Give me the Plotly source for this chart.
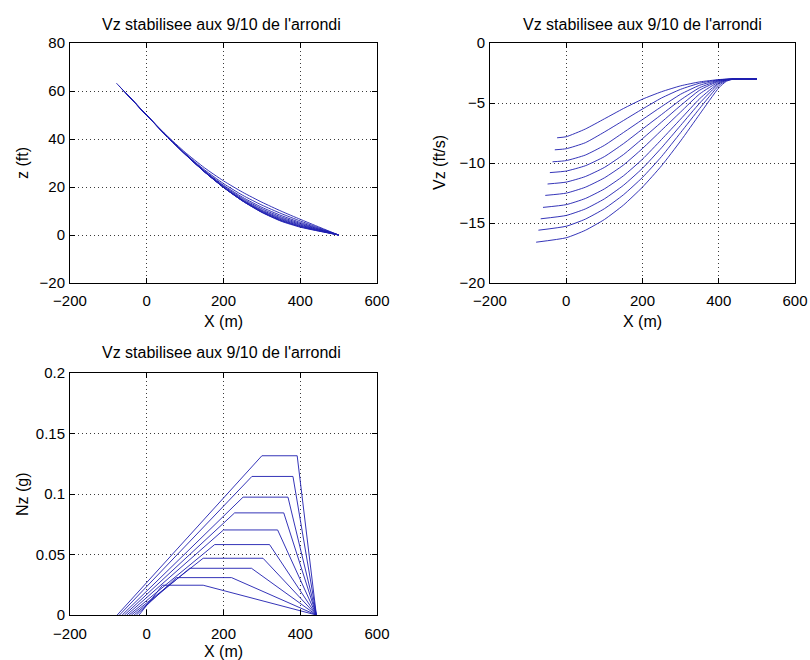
import plotly.graph_objects as go

# ---------------- data ----------------
START_X = [-24, -30, -36, -43, -49, -55, -61, -67, -73, -79]

# z (ft) vs X (m)
Z_START = [54.03, 55.04, 56.05, 57.22, 58.23, 59.24, 60.25, 61.26, 62.26, 63.27]
Z_X = [0, 50, 100, 150, 200, 250, 300, 350, 400, 440, 500]
Z_1 = [49.93, 41.79, 34.46, 28.06, 22.55, 17.81, 13.66, 9.96, 6.54, 3.91, 0]
Z_2 = [49.89, 41.58, 33.96, 27.23, 21.43, 16.54, 12.46, 8.96, 5.84, 3.49, 0]
Z_3 = [49.86, 41.54, 33.76, 26.80, 20.78, 15.69, 11.53, 8.14, 5.26, 3.13, 0]
Z_4 = [49.87, 41.55, 33.71, 26.60, 20.41, 15.18, 10.92, 7.55, 4.82, 2.87, 0]
Z_5 = [49.84, 41.51, 33.63, 26.41, 20.08, 14.74, 10.41, 7.06, 4.45, 2.64, 0]
Z_6 = [49.83, 41.51, 33.62, 26.36, 19.93, 14.48, 10.07, 6.68, 4.14, 2.44, 0]
Z_7 = [49.84, 41.55, 33.66, 26.38, 19.86, 14.31, 9.80, 6.35, 3.85, 2.26, 0]
Z_8 = [49.82, 41.54, 33.66, 26.35, 19.80, 14.17, 9.59, 6.10, 3.62, 2.11, 0]
Z_9 = [49.83, 41.57, 33.71, 26.42, 19.84, 14.14, 9.47, 5.91, 3.43, 1.98, 0]
Z_10 = [49.86, 41.63, 33.79, 26.50, 19.90, 14.15, 9.40, 5.75, 3.25, 1.87, 0]
Z_CURVES = [Z_1, Z_2, Z_3, Z_4, Z_5, Z_6, Z_7, Z_8, Z_9, Z_10]

# Vz (ft/s) vs X (m)
VZ_START = [-7.9, -8.9, -9.9, -10.8, -11.75, -12.7, -13.7, -14.65, -15.6, -16.6]
VZ_X = [0, 50, 100, 150, 200, 250, 300, 350, 400, 420, 440, 500]
VZ_1 = [-7.81, -7.17, -6.32, -5.46, -4.68, -4.06, -3.57, -3.24, -3.05, -3.01, -3, -3]
VZ_2 = [-8.81, -8.31, -7.42, -6.46, -5.50, -4.58, -3.86, -3.35, -3.07, -3.02, -3, -3]
VZ_3 = [-9.80, -9.34, -8.53, -7.46, -6.38, -5.30, -4.27, -3.52, -3.10, -3.03, -3, -3]
VZ_4 = [-10.67, -10.23, -9.47, -8.39, -7.17, -5.96, -4.74, -3.72, -3.14, -3.04, -3, -3]
VZ_5 = [-11.59, -11.13, -10.37, -9.30, -7.97, -6.59, -5.21, -3.93, -3.18, -3.05, -3, -3]
VZ_6 = [-12.51, -12.02, -11.24, -10.17, -8.79, -7.27, -5.75, -4.24, -3.25, -3.06, -3, -3]
VZ_7 = [-13.47, -12.96, -12.16, -11.07, -9.68, -8.04, -6.34, -4.64, -3.33, -3.08, -3, -3]
VZ_8 = [-14.37, -13.83, -12.99, -11.86, -10.44, -8.73, -6.87, -5.01, -3.41, -3.10, -3, -3]
VZ_9 = [-15.27, -14.68, -13.81, -12.65, -11.20, -9.46, -7.47, -5.45, -3.55, -3.14, -3, -3]
VZ_10 = [-16.23, -15.61, -14.71, -13.51, -12.01, -10.23, -8.16, -5.93, -3.74, -3.19, -3, -3]
VZ_CURVES = [VZ_1, VZ_2, VZ_3, VZ_4, VZ_5, VZ_6, VZ_7, VZ_8, VZ_9, VZ_10]

# Nz (g) vs X (m): trapezoids
NZ_START_X = [-20, -27, -33, -40, -46, -52, -58, -64, -71, -77]
NZ_PEAK = [0.0246, 0.0309, 0.0386, 0.0469, 0.0582, 0.0703, 0.0844, 0.0974, 0.1145, 0.1316]
NZ_PLATEAU_START = [41, 77, 112, 147, 177, 200, 229, 251, 274, 300]
NZ_PLATEAU_END = [147, 221, 273, 303, 320, 341, 357, 368, 381, 392]
NZ_END_X = [442, 442, 442, 442, 442, 442, 442, 442, 442, 442]

TITLE = "Vz stabilisee aux 9/10 de l'arrondi"
X_TICKS = [-200, 0, 200, 400, 600]
Y1_TICKS = [-20, 0, 20, 40, 60, 80]
Y2_TICKS = [-20, -15, -10, -5, 0]
Y3_TICKS = [0, 0.05, 0.1, 0.15, 0.2]
Y3_LABELS = ["0", "0.05", "0.1", "0.15", "0.2"]

# ---------------- figure ----------------
LINE = dict(color="#1e1eb0", width=0.9)
fig = go.Figure()

for k in range(10):
    fig.add_trace(go.Scatter(
        x=[START_X[k]] + Z_X, y=[Z_START[k]] + Z_CURVES[k],
        mode="lines", line=dict(shape="spline", smoothing=0.6, **LINE),
        xaxis="x", yaxis="y", showlegend=False, hoverinfo="skip"))
    fig.add_trace(go.Scatter(
        x=[START_X[k]] + VZ_X, y=[VZ_START[k]] + VZ_CURVES[k],
        mode="lines", line=dict(shape="spline", smoothing=0.5, **LINE),
        xaxis="x2", yaxis="y2", showlegend=False, hoverinfo="skip"))
    fig.add_trace(go.Scatter(
        x=[NZ_START_X[k], NZ_PLATEAU_START[k], NZ_PLATEAU_END[k], NZ_END_X[k]],
        y=[0, NZ_PEAK[k], NZ_PEAK[k], 0],
        mode="lines", line=LINE,
        xaxis="x3", yaxis="y3", showlegend=False, hoverinfo="skip"))

FONT = "Liberation Sans, Arial, Helvetica, sans-serif"
W, H = 810, 660

def ax(**kw):
    base = dict(showline=True, linecolor="black", linewidth=1, mirror="allticks",
                ticks="inside", ticklen=5, tickcolor="black", tickwidth=1,
                showgrid=True, gridcolor="#3a3a3a", griddash="1px,3px", gridwidth=1,
                zeroline=False, fixedrange=True, automargin=False,
                tickfont=dict(family=FONT, size=15, color="black"))
    base.update(kw)
    return base

PX = lambda px: px / W
PY = lambda py: 1 - py / H

fig.update_layout(
    width=W, height=H, autosize=False,
    margin=dict(l=0, r=0, t=0, b=0, autoexpand=False),
    paper_bgcolor="white", plot_bgcolor="white",
    font=dict(family=FONT, size=16, color="black"),
    xaxis=ax(domain=[PX(70), PX(377)], anchor="y", range=[-200, 600], tickvals=X_TICKS,
             ticklabelstandoff=4),
    yaxis=ax(domain=[PY(283), PY(43)], anchor="x", range=[-20, 80], tickvals=Y1_TICKS,
             ticklabelstandoff=1),
    xaxis2=ax(domain=[PX(490), PX(795)], anchor="y2", range=[-200, 600], tickvals=X_TICKS,
              ticklabelstandoff=4),
    yaxis2=ax(domain=[PY(283), PY(43)], anchor="x2", range=[-20, 0], tickvals=Y2_TICKS,
              ticklabelstandoff=1),
    xaxis3=ax(domain=[PX(70), PX(377)], anchor="y3", range=[-200, 600], tickvals=X_TICKS,
              ticklabelstandoff=5),
    yaxis3=ax(domain=[PY(615), PY(373)], anchor="x3", range=[0, 0.2],
              tickvals=Y3_TICKS, ticktext=Y3_LABELS, ticklabelstandoff=1),
)

def note(text, x, y, angle=0, size=16):
    fig.add_annotation(text=text, x=PX(x), y=PY(y), xref="paper", yref="paper",
                       showarrow=False, xanchor="center", yanchor="middle",
                       textangle=angle, font=dict(family=FONT, size=size, color="black"))

note(TITLE, 221, 25, size=16)
note(TITLE, 642, 25, size=16)
note(TITLE, 221, 353, size=16)
note("X (m)", 223, 321)
note("X (m)", 642, 322)
note("X (m)", 223, 651)
note("z (ft)", 22, 163, -90)
note("Vz (ft/s)", 439, 163, -90)
note("Nz (g)", 22, 494, -90)

# remove the page's default 8px body margin so the figure sits at the window origin
fig.write_html("out.html",
               config={"displayModeBar": False, "staticPlot": True},
               post_script="document.body.style.margin='0';document.body.style.overflow='hidden';")
